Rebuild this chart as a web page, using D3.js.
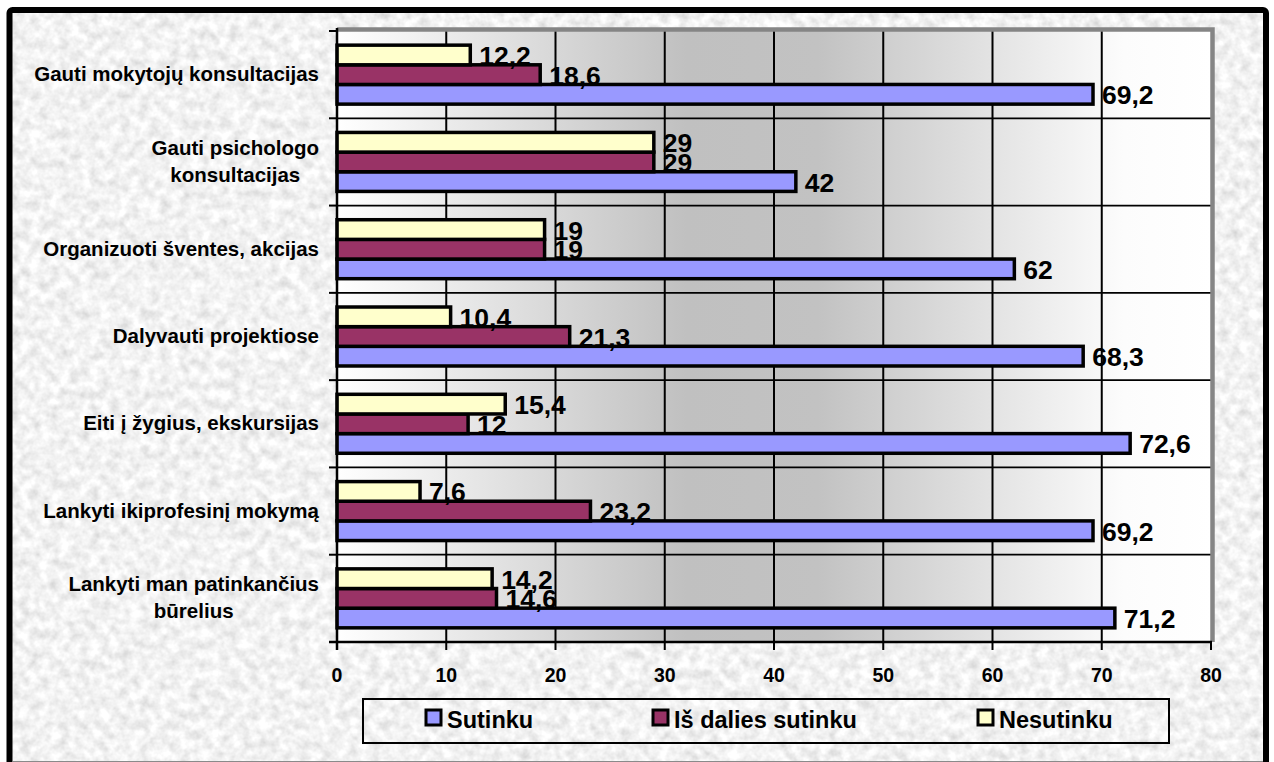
<!DOCTYPE html>
<html>
<head>
<meta charset="utf-8">
<script src="https://cdn.jsdelivr.net/npm/d3@7"></script>
<style>
  html, body { margin: 0; padding: 0; background: #fff; }
  svg { display: block; font-family: "Liberation Sans", Arial, sans-serif; font-weight: bold; }
</style>
</head>
<body>
<svg id="chart" width="1274" height="762"></svg>
<script>
const categories = [
  "Gauti mokytojų konsultacijas",
  "Gauti psichologo\nkonsultacijas",
  "Organizuoti šventes, akcijas",
  "Dalyvauti projektiose",
  "Eiti į žygius, ekskursijas",
  "Lankyti ikiprofesinį mokymą",
  "Lankyti man patinkančius\nbūrelius"
];
const seriesNames = ["Sutinku", "Iš dalies sutinku", "Nesutinku"];
const sutinku = [69.2, 42, 62, 68.3, 72.6, 69.2, 71.2];
const isDalies = [18.6, 29, 19, 21.3, 12, 23.2, 14.6];
const nesutinku = [12.2, 29, 19, 10.4, 15.4, 7.6, 14.2];
const xTicks = [0, 10, 20, 30, 40, 50, 60, 70, 80];
const colors = ["#9999FF", "#993366", "#FFFFCC"];

const svg = d3.select("#chart");
const defs = svg.append("defs");

// granite-like texture
const f = defs.append("filter").attr("id", "granite").attr("x", 0).attr("y", 0).attr("width", "100%").attr("height", "100%");
f.append("feTurbulence").attr("type", "fractalNoise").attr("baseFrequency", "0.1").attr("numOctaves", 3).attr("seed", 7).attr("result", "n");
f.append("feColorMatrix").attr("in", "n").attr("type", "matrix")
  .attr("values", "0.5 0 0 0 0.64  0.5 0 0 0 0.64  0.5 0 0 0 0.64  0 0 0 0 1");

// plot gradient
const g = defs.append("linearGradient").attr("id", "plotGrad").attr("x1", "0%").attr("x2", "100%").attr("y1", "0%").attr("y2", "0%");
g.append("stop").attr("offset", "0%").attr("stop-color", "#ffffff");
g.append("stop").attr("offset", "40%").attr("stop-color", "#c0c0c0");
g.append("stop").attr("offset", "55%").attr("stop-color", "#c2c2c2");
g.append("stop").attr("offset", "90%").attr("stop-color", "#fcfcfc");
g.append("stop").attr("offset", "100%").attr("stop-color", "#ffffff");

// background
svg.append("rect").attr("x", 10).attr("y", 10).attr("width", 1256).attr("height", 760)
  .attr("filter", "url(#granite)");
svg.append("rect").attr("x", 9.5).attr("y", 10).attr("width", 1256.5).attr("height", 780)
  .attr("rx", 3).attr("fill", "none").attr("stroke", "#000").attr("stroke-width", 6);
svg.append("line").attr("x1", 13).attr("x2", 1263).attr("y1", 761.5).attr("y2", 761.5)
  .attr("stroke", "#8a8a8a").attr("stroke-width", 1);

const L = 337, R = 1211, T = 31, B = 642;
const x = d3.scaleLinear().domain([0, 80]).range([L, R]);
const y0 = d3.scaleBand().domain(d3.range(categories.length)).range([T, B]);
const order = [2, 1, 0]; // Nesutinku top, Iš dalies middle, Sutinku bottom
const y1 = d3.scaleBand().domain(order).range([0, y0.bandwidth()]).paddingInner(0).paddingOuter(0.72);

// plot area
svg.append("rect").attr("x", L).attr("y", T).attr("width", R - L).attr("height", B - T).attr("fill", "url(#plotGrad)");

// vertical gridlines
svg.append("g").selectAll("line").data(xTicks.slice(1, -1)).join("line")
  .attr("x1", d => x(d)).attr("x2", d => x(d)).attr("y1", T).attr("y2", B)
  .attr("stroke", "#000").attr("stroke-width", 2);
// horizontal gridlines at category boundaries
svg.append("g").selectAll("line").data(d3.range(1, categories.length)).join("line")
  .attr("x1", L).attr("x2", R).attr("y1", d => y0(d)).attr("y2", d => y0(d))
  .attr("stroke", "#000").attr("stroke-width", 1.8);

// plot border (gray top/right)
svg.append("path").attr("d", `M${L},${T - 1.5}H${R + 1.5}V${B}`)
  .attr("fill", "none").attr("stroke", "#858585").attr("stroke-width", 4.5);

const seriesData = [sutinku, isDalies, nesutinku];
const fmt = v => String(v).replace(".", ",");

// bars
const barG = svg.append("g");
seriesData.forEach((vals, s) => {
  barG.append("g").selectAll("rect").data(vals).join("rect")
    .attr("x", x(0))
    .attr("y", (d, i) => y0(i) + y1(s))
    .attr("width", d => x(d) - x(0))
    .attr("height", y1.bandwidth())
    .attr("fill", colors[s]).attr("stroke", "#000").attr("stroke-width", 3.5);
});

// axes lines
svg.append("line").attr("x1", L).attr("x2", L).attr("y1", T - 3).attr("y2", B + 8)
  .attr("stroke", "#000").attr("stroke-width", 2.5);
svg.append("line").attr("x1", L - 8).attr("x2", R + 1).attr("y1", B).attr("y2", B)
  .attr("stroke", "#000").attr("stroke-width", 2.5);

// y ticks
svg.append("g").selectAll("line").data(d3.range(0, categories.length + 1)).join("line")
  .attr("x1", L - 8).attr("x2", L)
  .attr("y1", d => d < categories.length ? y0(d) : B).attr("y2", d => d < categories.length ? y0(d) : B)
  .attr("stroke", "#000").attr("stroke-width", 2);
// x ticks
svg.append("g").selectAll("line").data(xTicks).join("line")
  .attr("x1", d => x(d)).attr("x2", d => x(d)).attr("y1", B).attr("y2", B + 8)
  .attr("stroke", "#000").attr("stroke-width", 2);
svg.append("g").selectAll("text").data(xTicks).join("text")
  .attr("x", d => x(d)).attr("y", 682).attr("text-anchor", "middle")
  .attr("font-size", 19.5).text(d => d);

// value labels
const lblG = svg.append("g");
seriesData.forEach((vals, s) => {
  lblG.append("g").selectAll("text").data(vals).join("text")
    .attr("x", d => x(d) + 9)
    .attr("y", (d, i) => y0(i) + y1(s) + y1.bandwidth() / 2 + 10)
    .attr("font-size", 26.5).text(d => fmt(d));
});

// category labels
const catG = svg.append("g");
categories.forEach((c, i) => {
  const lines = c.split("\n");
  const t = catG.append("text").attr("font-size", 20.5).attr("text-anchor", "middle");
  const lh = 27;
  const cy = y0(i) + y0.bandwidth() / 2;
  const spans = lines.map((ln, k) => t.append("tspan").text(ln)
    .attr("y", cy + 6.5 + (k - (lines.length - 1) / 2) * lh));
  const w = d3.max(spans, sp => sp.node().getComputedTextLength());
  spans.forEach(sp => sp.attr("x", 319 - w / 2));
});

// legend
svg.append("rect").attr("x", 363).attr("y", 699).attr("width", 806).attr("height", 44)
  .attr("fill", "none").attr("stroke", "#000").attr("stroke-width", 2);
const legX = [425, 652, 977];
seriesNames.forEach((n, s) => {
  svg.append("rect").attr("x", legX[s] + 1).attr("y", 710).attr("width", 15).attr("height", 15)
    .attr("fill", colors[s]).attr("stroke", "#000").attr("stroke-width", 3);
  svg.append("text").attr("x", legX[s] + 22).attr("y", 728).attr("font-size", 23.5).text(n);
});
</script>
</body>
</html>
